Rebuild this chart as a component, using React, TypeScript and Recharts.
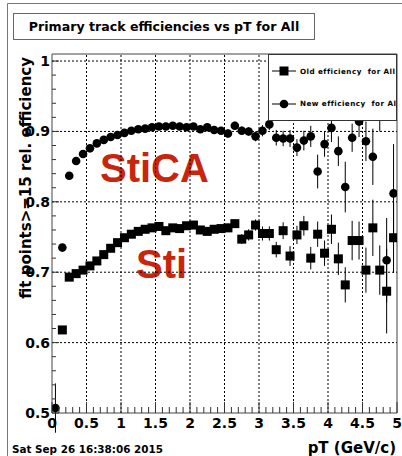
import React from 'react';
import { ComposedChart, Scatter, XAxis, YAxis, ErrorBar, ReferenceLine, ReferenceArea, Legend } from 'recharts';

// bin centres, pT (GeV/c)
const ptBins = [
  0.05, 0.15, 0.25, 0.35, 0.45, 0.55, 0.65, 0.75, 0.85, 0.95,
  1.05, 1.15, 1.25, 1.35, 1.45, 1.55, 1.65, 1.75, 1.85, 1.95,
  2.05, 2.15, 2.25, 2.35, 2.45, 2.55, 2.65, 2.75, 2.85, 2.95,
  3.05, 3.15, 3.25, 3.35, 3.45, 3.55, 3.65, 3.75, 3.85, 3.95,
  4.05, 4.15, 4.25, 4.35, 4.45, 4.55, 4.65, 4.75, 4.85, 4.95,
];

// Sti (old)
const oldEff = [
  null, 0.618, 0.693, 0.698, 0.703, 0.709, 0.716, 0.725, 0.734, 0.742,
  0.749, 0.754, 0.758, 0.761, 0.763, 0.765, 0.759, 0.763, 0.762, 0.766,
  0.767, 0.760, 0.758, 0.761, 0.762, 0.763, 0.769, 0.747, 0.753, 0.767,
  0.755, 0.755, 0.732, 0.759, 0.723, 0.753, 0.766, 0.720, 0.754, 0.727,
  0.761, 0.719, 0.682, 0.745, 0.745, 0.703, 0.763, 0.703, 0.673, 0.749,
];
const oldErr = [
  0, 0.004, 0.003, 0.003, 0.003, 0.003, 0.003, 0.003, 0.003, 0.003,
  0.003, 0.003, 0.003, 0.003, 0.003, 0.003, 0.004, 0.004, 0.004, 0.004,
  0.004, 0.005, 0.005, 0.005, 0.005, 0.006, 0.006, 0.007, 0.008, 0.008,
  0.010, 0.010, 0.011, 0.012, 0.014, 0.013, 0.014, 0.016, 0.018, 0.018,
  0.021, 0.023, 0.025, 0.028, 0.027, 0.032, 0.040, 0.035, 0.060, 0.050,
];

// StiCA (new)
const newEff = [
  0.507, 0.735, 0.837, 0.858, 0.868, 0.876, 0.883, 0.888, 0.892, 0.895,
  0.898, 0.901, 0.903, 0.904, 0.906, 0.907, 0.907, 0.908, 0.907, 0.906,
  0.907, 0.903, 0.906, 0.902, 0.901, 0.897, 0.908, 0.901, 0.900, 0.893,
  0.901, 0.910, 0.891, 0.890, 0.890, 0.877, 0.887, 0.893, 0.843, 0.882,
  0.905, 0.872, 0.821, 0.891, 0.914, 0.886, 0.864, 0.950, 0.717, 0.812,
];
const newErr = [
  0.035, 0.003, 0.003, 0.003, 0.003, 0.003, 0.003, 0.003, 0.003, 0.003,
  0.003, 0.003, 0.003, 0.003, 0.003, 0.003, 0.003, 0.004, 0.004, 0.004,
  0.004, 0.004, 0.005, 0.005, 0.005, 0.006, 0.006, 0.006, 0.006, 0.007,
  0.008, 0.008, 0.011, 0.011, 0.012, 0.012, 0.014, 0.015, 0.024, 0.018,
  0.020, 0.021, 0.036, 0.020, 0.022, 0.028, 0.040, 0.050, 0.060, 0.070,
];

const seriesNames = ['Old efficiency  for All', 'New efficiency  for All'];

const xMajor = [0, 0.5, 1, 1.5, 2, 2.5, 3, 3.5, 4, 4.5, 5];
const yMajor = [0.5, 0.6, 0.7, 0.8, 0.9, 1];
const xTicks = Array.from({ length: 51 }, (_, i) => +(i * 0.1).toFixed(1));
const yTicks = Array.from({ length: 26 }, (_, i) => +(0.5 + i * 0.02).toFixed(2));

const FONT = "'DejaVu Sans', sans-serif";

const oldData = ptBins
  .map((x, i) => ({ x, y: oldEff[i], err: oldErr[i] }))
  .filter(d => d.y != null);
const newData = ptBins
  .map((x, i) => ({ x, y: newEff[i], err: newErr[i] }))
  .filter(d => d.y != null);

const isMajor = (list: number[], v: number) => list.some(m => Math.abs(m - v) < 1e-6);

const XTick = (props: any) => {
  const { x, y, payload } = props;
  const major = isMajor(xMajor, payload.value);
  return (
    <g>
      <line x1={x} x2={x} y1={y} y2={y - (major ? 11 : 6)} stroke="#333" />
      {major && (
        <text x={x} y={y + 15} textAnchor="middle" fontFamily={FONT} fontWeight="bold" fontSize={14} fill="#000">
          {String(payload.value)}
        </text>
      )}
    </g>
  );
};

const YTick = (props: any) => {
  const { x, y, payload } = props;
  const major = isMajor(yMajor, payload.value);
  return (
    <g>
      <line x1={x} x2={x + (major ? 7 : 4)} y1={y} y2={y} stroke="#333" />
      {major && (
        <text x={x - 2} y={y + 5} textAnchor="end" fontFamily={FONT} fontWeight="bold" fontSize={14} fill="#000">
          {String(payload.value)}
        </text>
      )}
    </g>
  );
};

const squareShape = (p: any) => <rect x={p.cx - 4.5} y={p.cy - 4.5} width={9} height={9} fill="#000" />;
const circleShape = (p: any) => <circle cx={p.cx} cy={p.cy} r={4.3} fill="#000" />;

const LegendBox = (props: any) => {
  const entries = [...(props.payload || [])].sort(
    (a: any, b: any) => seriesNames.indexOf(a.value) - seriesNames.indexOf(b.value)
  );
  return (
    <div style={{ width: 129, height: 67, boxSizing: 'border-box', border: '1px solid #333', background: '#fff', overflow: 'hidden' }}>
      {entries.map((entry: any) => {
        const square = entry.value === seriesNames[0];
        return (
          <div key={entry.value} style={{ height: 32.5, display: 'flex', alignItems: 'center' }}>
            <svg width={31} height={12} style={{ flex: 'none' }}>
              <line x1={3} x2={27} y1={6} y2={6} stroke="#000" />
              {square ? <rect x={10.5} y={1.5} width={9} height={9} fill="#000" /> : <circle cx={15} cy={6} r={4.3} fill="#000" />}
            </svg>
            <span style={{ fontFamily: FONT, fontWeight: 'bold', fontSize: 7.2, letterSpacing: 0.45, whiteSpace: 'pre', color: '#000' }}>
              {entry.value}
            </span>
          </div>
        );
      })}
    </div>
  );
};

export default function App() {
  return (
    <div style={{ position: 'absolute', left: 0, top: 0, width: 402, height: 456, background: '#fff', overflow: 'hidden' }}>
      <svg width={402} height={456} style={{ position: 'absolute', left: 0, top: 0 }}>
        <line x1={7.5} x2={402} y1={3.5} y2={3.5} stroke="#777" />
        <line x1={7.5} x2={7.5} y1={3.5} y2={456} stroke="#777" />
        <text x={100} y={182} fontFamily="'Liberation Sans', Arial, sans-serif" fontWeight="bold" fontSize={40} fill="#c8260c">
          StiCA
        </text>
        <text x={136} y={278} fontFamily="'Liberation Sans', Arial, sans-serif" fontWeight="bold" fontSize={40} fill="#c8260c">
          Sti
        </text>
        <text transform="translate(31,57) rotate(-90)" textAnchor="end" fontFamily={FONT} fontWeight="bold" fontSize={15} fill="#000">
          fit points&gt;=15 rel. efficiency
        </text>
        <text x={396} y={452.5} textAnchor="end" fontFamily={FONT} fontWeight="bold" fontSize={15} fill="#000">
          pT (GeV/c)
        </text>
        <text x={12} y={452.5} fontFamily={FONT} fontWeight="bold" fontSize={10.4} fill="#000">
          Sat Sep 26 16:38:06 2015
        </text>
      </svg>
      <div
        style={{
          position: 'absolute', left: 13, top: 12.5, width: 302, height: 27, boxSizing: 'border-box',
          border: '1px solid #666', background: '#fff', display: 'flex', alignItems: 'center', justifyContent: 'center',
          fontFamily: FONT, fontWeight: 'bold', fontSize: 12.6, color: '#000', whiteSpace: 'nowrap',
        }}
      >
        Primary track efficiencies vs pT for All
      </div>
      <div style={{ position: 'absolute', left: 0, top: 0 }}>
        <ComposedChart width={402} height={456} margin={{ top: 54, right: 5, bottom: 13, left: 0 }}>
          <XAxis
            type="number"
            dataKey="x"
            domain={[0, 5]}
            ticks={xTicks}
            interval={0}
            allowDataOverflow
            height={30}
            axisLine={false}
            tickLine={false}
            tickSize={0}
            tickMargin={0}
            tick={<XTick />}
          />
          <YAxis
            type="number"
            dataKey="y"
            domain={[0.5, 1.01]}
            ticks={yTicks}
            interval={0}
            allowDataOverflow
            width={52}
            axisLine={false}
            tickLine={false}
            tickSize={0}
            tickMargin={0}
            tick={<YTick />}
          />
          {xMajor.slice(1, -1).map(v => (
            <ReferenceLine key={'vx' + v} x={v} stroke="#000" strokeWidth={1} strokeDasharray="2 2" />
          ))}
          {yMajor.slice(1).map(v => (
            <ReferenceLine key={'hy' + v} y={v} stroke="#000" strokeWidth={1} strokeDasharray="2 2" />
          ))}
          <ReferenceArea x1={0} x2={5} y1={0.5} y2={1.01} fill="none" stroke="#444" strokeWidth={1} />
          <Scatter name={seriesNames[0]} data={oldData} shape={squareShape} isAnimationActive={false}>
            <ErrorBar dataKey="err" direction="y" width={0} stroke="#000" strokeWidth={1} isAnimationActive={false} />
          </Scatter>
          <Scatter name={seriesNames[1]} data={newData} shape={circleShape} isAnimationActive={false}>
            <ErrorBar dataKey="err" direction="y" width={0} stroke="#000" strokeWidth={1} isAnimationActive={false} />
          </Scatter>
          <Legend
            layout="vertical"
            align="center"
            verticalAlign="middle"
            content={<LegendBox />}
            wrapperStyle={{ left: 268, top: 54, width: 129, height: 67 }}
          />
        </ComposedChart>
      </div>
    </div>
  );
}
